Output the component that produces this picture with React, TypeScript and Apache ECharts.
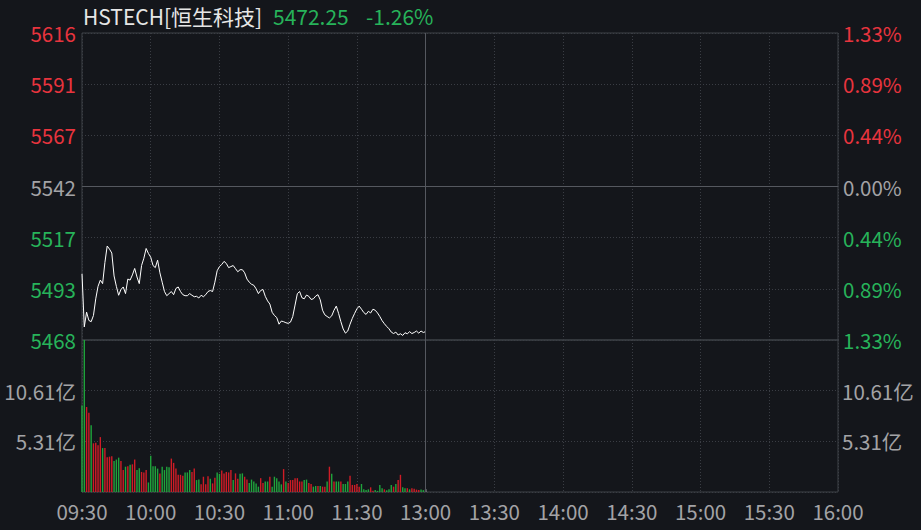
import React, { useEffect, useRef } from 'react';
import * as echarts from 'echarts';

const NAME = 'HSTECH[恒生科技]';
const PREV_CLOSE = 5542;
const HALF_RANGE = 73.8;
const VOL_MAX = 15.92; // 亿

const TICK_LABELS = ['09:30', '10:00', '10:30', '11:00', '11:30', '13:00', '13:30', '14:00', '14:30', '15:00', '15:30', '16:00'];

const PRICES = [
  5500, 5474.5, 5481.6, 5477.6, 5477, 5480, 5488, 5494, 5497, 5495.3,
  5505.5, 5513.4, 5511.9, 5510, 5499, 5494, 5489.7, 5492.5, 5493.7, 5490.5,
  5497.5, 5497, 5499.5, 5502.6, 5498.5, 5495.3, 5504, 5507.5, 5512.2, 5509.8,
  5508, 5504, 5503, 5506.6, 5500.5, 5496, 5491.5, 5489.5, 5490.5, 5491.5,
  5490, 5493, 5493.7, 5491.5, 5490, 5489.5, 5489.5, 5490.5, 5489.7, 5489,
  5489.2, 5488.4, 5489.7, 5489, 5490, 5491.5, 5492, 5491.5, 5496, 5501.5,
  5503.5, 5504.5, 5506, 5505, 5503, 5503.5, 5504, 5502.5, 5501, 5502,
  5502, 5500.5, 5497.5, 5496, 5495, 5494.5, 5492.8, 5490.5, 5492, 5492.5,
  5489.2, 5487, 5485.5, 5481.5, 5480, 5479, 5475.8, 5477.3, 5477, 5476.5,
  5476.2, 5476.8, 5479.5, 5485, 5490.5, 5491.5, 5488.5, 5488, 5489.8, 5489.2,
  5487.7, 5488, 5489.3, 5490, 5487.5, 5482.5, 5480.3, 5479.5, 5478.8, 5479.8,
  5482.5, 5484.5, 5481, 5477, 5473.5, 5471.5, 5472.5, 5475.8, 5478.6, 5481,
  5483.2, 5484.5, 5483, 5481.4, 5480.5, 5482, 5481.2, 5483, 5482.5, 5481.2,
  5479.5, 5477.5, 5476, 5474.7, 5473.6, 5472, 5471.3, 5472, 5470.6, 5471.2,
  5470.4, 5471.7, 5471.2, 5472.2, 5471.3, 5471.8, 5472.5, 5471.5, 5472.5, 5471.8,
  5472.25,
];

const VOLUMES = [
  9.05, 15.92, 8.9, 8.3, 7.0, 5.1, 5.15, 4.9, 5.75, 4.6,
  4.6, 3.65, 3.7, 3.75, 3.25, 3.4, 3.6, 3.25, 2.3, 2.65,
  2.7, 2.85, 2.9, 3.4, 2.3, 2.5, 2.1, 2.05, 2.3, 1.0,
  3.8, 2.7, 2.7, 2.45, 1.95, 2.65, 2.3, 2.65, 2.6, 3.5,
  3.05, 2.45, 1.8, 1.8, 1.7, 2.05, 2.05, 2.3, 2.1, 2.45,
  1.25, 1.3, 0.8, 1.6, 0.8, 1.65, 1.4, 0.9, 1.5, 2.05,
  1.9, 2.25, 1.95, 2.1, 2.05, 2.3, 1.25, 1.95, 1.4, 1.9,
  1.95, 1.6, 1.3, 0.95, 1.3,
  1.1, 0.9, 0.56, 1.45, 0.95, 1.1, 1.1, 1.6, 0.56, 1.6,
  1.45, 1.1, 0.8, 2.4, 1.1, 0.95, 1.25, 1.25, 1.45, 1.45,
  1.1, 1.1, 1.25, 1.3, 0.95, 0.85, 0.56, 0.63, 0.63, 0.63,
  0.56, 0.56, 1.1, 2.65, 1.9, 1.1, 1.1, 1.1, 1.1, 0.84,
  0.84, 1.1, 1.7, 0.74, 0.74, 0.84, 0.56, 0.84, 0.28, 0.21,
  0.28, 0.49, 0.12, 0.21, 0.12, 0.74, 0.4, 0.28, 0.18, 0.28,
  0.74, 0.56, 0.84, 1.25, 1.8, 0.49, 0.4, 0.4, 0.28, 0.4,
  0.33, 0.25, 0.2, 0.25, 0.2, 0.3,
];

// r = up (red), g = down (green), w = flat
const VOLUME_DIRS = (
  'ggrrgrrrrg' + 'rrrrgggrrg' + 'rgrrggrrrg' + 'ggggrggggr' + 'rrrrrgggrr' +
  'ggrrrrgrrg' + 'grrrrrgrrg' + 'grrgg' +
  'gggrrggrgg' + 'gggrgrrrrr' + 'rrggrrggrg' + 'rrgrgrggrg' + 'ggrrrrrggg' +
  'grrggggrgg' + 'grgrrggrgr' + 'rrrggw'
).split('');

const RED = '#e8343e';
const GREEN = '#27b35a';
const GRAY = '#a3a3a6';
const BAR_RED = '#cf1c26';
const BAR_GREEN = '#1fa43c';
const BAR_WHITE = '#e0e0e0';
const BG = '#14161b';
const FONT = '"Noto Sans CJK SC", "Noto Sans", sans-serif';
const FS = 20.5;

export default function App() {
  const ref = useRef<HTMLDivElement>(null);

  useEffect(() => {
    document.body.style.margin = '0';
    document.body.style.background = BG;
    const chart = echarts.init(ref.current!, null, { renderer: 'svg' });
    const base = PREV_CLOSE - HALF_RANGE;
    const pMax = HALF_RANGE * 2;
    const last = PRICES[PRICES.length - 1];
    const pct = ((last - PREV_CLOSE) / PREV_CLOSE) * 100;
    const lastColor = last >= PREV_CLOSE ? RED : GREEN;

    const priceColor = (v: any) => {
      const n = Number(v);
      if (n > HALF_RANGE + 0.01) return RED;
      if (n < HALF_RANGE - 0.01) return GREEN;
      return GRAY;
    };
    const splitStyle = { color: '#3a3d44', type: [1, 2] as any, width: 1 };
    const volFmt = (v: number) => (v > 0.01 && v < VOL_MAX - 0.01 ? v.toFixed(2) + '亿' : '');

    chart.setOption({
      animation: false,
      backgroundColor: BG,
      textStyle: { fontFamily: FONT },
      graphic: [
        { type: 'text', x: 83, y: 16, style: { text: NAME, fill: '#e6e6e6', fontSize: 21, fontFamily: FONT, verticalAlign: 'middle' } },
        { type: 'text', x: 273, y: 16, style: { text: last.toFixed(2), fill: lastColor, fontSize: 21, fontFamily: FONT, verticalAlign: 'middle' } },
        { type: 'text', x: 366, y: 16, style: { text: (pct >= 0 ? '+' : '') + pct.toFixed(2) + '%', fill: lastColor, fontSize: 21, fontFamily: FONT, verticalAlign: 'middle' } },
      ],
      grid: [
        { left: 82, top: 33, width: 756, height: 307, show: true, borderColor: '#3f4248', borderWidth: 1 },
        { left: 82, top: 340, width: 756, height: 152, show: true, borderColor: '#3f4248', borderWidth: 1 },
      ],
      xAxis: [0, 1].map((g) => ({
        type: 'value',
        gridIndex: g,
        min: 0,
        max: 330,
        interval: 30,
        axisLine: { show: false },
        axisTick: { show: false },
        splitLine: { show: true, lineStyle: splitStyle },
        axisLabel: {
          show: g === 1,
          color: GRAY,
          fontSize: FS,
          margin: 9,
          fontFamily: FONT,
          formatter: (v: number) => TICK_LABELS[Math.round(v / 30)] || '',
        },
      })),
      yAxis: [
        {
          type: 'value', gridIndex: 0, position: 'left', min: 0, max: pMax, interval: HALF_RANGE / 3,
          axisLine: { show: false }, axisTick: { show: false },
          splitLine: { show: true, lineStyle: splitStyle },
          axisLabel: {
            color: priceColor, fontSize: FS, margin: 6, fontFamily: FONT,
            formatter: (v: number) => String(Math.round(base + v)),
          },
        },
        {
          type: 'value', gridIndex: 0, position: 'right', min: 0, max: pMax, interval: HALF_RANGE / 3,
          axisLine: { show: false }, axisTick: { show: false }, splitLine: { show: false },
          axisLabel: {
            color: priceColor, fontSize: FS, margin: 5, fontFamily: FONT,
            formatter: (v: number) => ((Math.abs(v - HALF_RANGE) / PREV_CLOSE) * 100).toFixed(2) + '%',
          },
        },
        {
          type: 'value', gridIndex: 1, position: 'left', min: 0, max: VOL_MAX, interval: VOL_MAX / 3,
          axisLine: { show: false }, axisTick: { show: false },
          splitLine: { show: true, lineStyle: splitStyle },
          axisLabel: { color: GRAY, fontSize: FS, margin: 6, fontFamily: FONT, formatter: volFmt },
        },
        {
          type: 'value', gridIndex: 1, position: 'right', min: 0, max: VOL_MAX, interval: VOL_MAX / 3,
          axisLine: { show: false }, axisTick: { show: false }, splitLine: { show: false },
          axisLabel: { color: GRAY, fontSize: FS, margin: 4, fontFamily: FONT, formatter: volFmt },
        },
      ],
      series: [
        {
          type: 'line',
          xAxisIndex: 0,
          yAxisIndex: 0,
          data: PRICES.map((p, i) => [i, p - base]),
          showSymbol: false,
          symbol: 'none',
          lineStyle: { color: '#ffffff', width: 1 },
          silent: true,
          markLine: {
            silent: true,
            symbol: 'none',
            label: { show: false },
            lineStyle: { color: '#55585f', type: 'solid', width: 1 },
            data: [{ yAxis: HALF_RANGE }, { xAxis: 150 }],
          },
        },
        {
          type: 'bar',
          xAxisIndex: 1,
          yAxisIndex: 2,
          barWidth: 1.4,
          silent: true,
          data: VOLUMES.map((v, i) => ({
            value: [i, v],
            itemStyle: {
              color: VOLUME_DIRS[i] === 'r' ? BAR_RED : VOLUME_DIRS[i] === 'g' ? BAR_GREEN : BAR_WHITE,
            },
          })),
          markLine: {
            silent: true,
            symbol: 'none',
            label: { show: false },
            lineStyle: { color: '#55585f', type: 'solid', width: 1 },
            data: [{ xAxis: 150 }],
          },
        },
      ],
    });
    return () => chart.dispose();
  }, []);

  return <div ref={ref} style={{ position: 'fixed', left: 0, top: 0, width: 921, height: 530 }} />;
}
